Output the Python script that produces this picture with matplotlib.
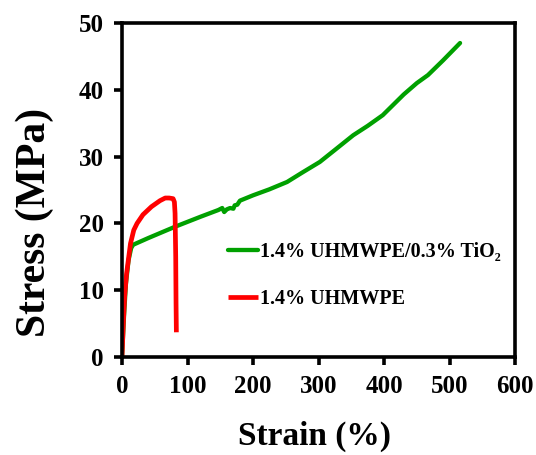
import matplotlib
matplotlib.use("Agg")
import matplotlib.pyplot as plt

# Data
strain_tio2 = [0, 3, 6, 10, 14, 17, 40, 81, 120, 147, 153, 156, 160, 165, 170, 172, 176, 180,
               200, 225, 252, 275, 302, 325, 353, 375, 398, 430, 450, 467, 490, 516]
stress_tio2 = [0, 6, 11, 14.5, 16.3, 16.8, 17.8, 19.5, 21.0, 22.0, 22.3, 21.7, 22.1, 22.3, 22.2,
               22.7, 22.8, 23.4, 24.2, 25.1, 26.2, 27.6, 29.2, 31.0, 33.2, 34.6, 36.2, 39.3, 41.0,
               42.2, 44.4, 47.0]

strain_pure = [0, 2, 4, 7, 9, 13, 18, 23, 32, 45, 58, 66, 72, 78, 80, 81, 82, 82.5, 83]
stress_pure = [0, 5, 9, 12.5, 14, 17, 19, 20, 21.3, 22.5, 23.4, 23.8, 23.8, 23.7, 23.2, 21.5, 15, 8, 3.7]

labels = ["1.4% UHMWPE/0.3% TiO\u2082", "1.4% UHMWPE"]
xticks = [0, 100, 200, 300, 400, 500, 600]
yticks = [0, 10, 20, 30, 40, 50]

plt.rcParams['font.family'] = ['Liberation Serif', 'DejaVu Serif']
plt.rcParams['font.weight'] = 'bold'

fig = plt.figure(figsize=(5.36, 4.55), dpi=100)
ax = fig.add_axes([0.2276, 0.2154, 0.7334, 0.7341])

ax.plot(strain_tio2, stress_tio2, color='#00a000', lw=3.1, label=labels[0], solid_capstyle='round')
ax.plot(strain_pure, stress_pure, color='#ff0000', lw=3.4, label=labels[1], solid_capstyle='butt')

ax.set_xlim(0, 600)
ax.set_ylim(0, 50)
ax.set_xticks(xticks)
ax.set_yticks(yticks)
for s in ax.spines.values():
    s.set_linewidth(2.6)
ax.tick_params(axis='both', direction='out', length=6, width=2.6, labelsize=18, pad=7)
for lab in ax.get_xticklabels() + ax.get_yticklabels():
    lab.set_fontweight('bold')

ax.set_xlabel('Strain (%)', fontsize=24, fontweight='bold')
ax.xaxis.set_label_coords(0.49, (357 - 452) / 334)
ax.xaxis.label.set_va('bottom')
ax.set_ylabel('Stress (MPa)', fontsize=30, fontweight='bold')
ax.yaxis.set_label_coords((54 - 122) / 393, (357 - 222) / 334)

leg = ax.legend(loc='center left', bbox_to_anchor=((218 - 122) / 393, 0.245), frameon=False,
                prop={'family': 'Liberation Serif', 'weight': 'bold', 'size': 14.5},
                handlelength=1.5, handletextpad=0.1, labelspacing=1.35, borderpad=0)

fig.savefig('out.png', dpi=100)
